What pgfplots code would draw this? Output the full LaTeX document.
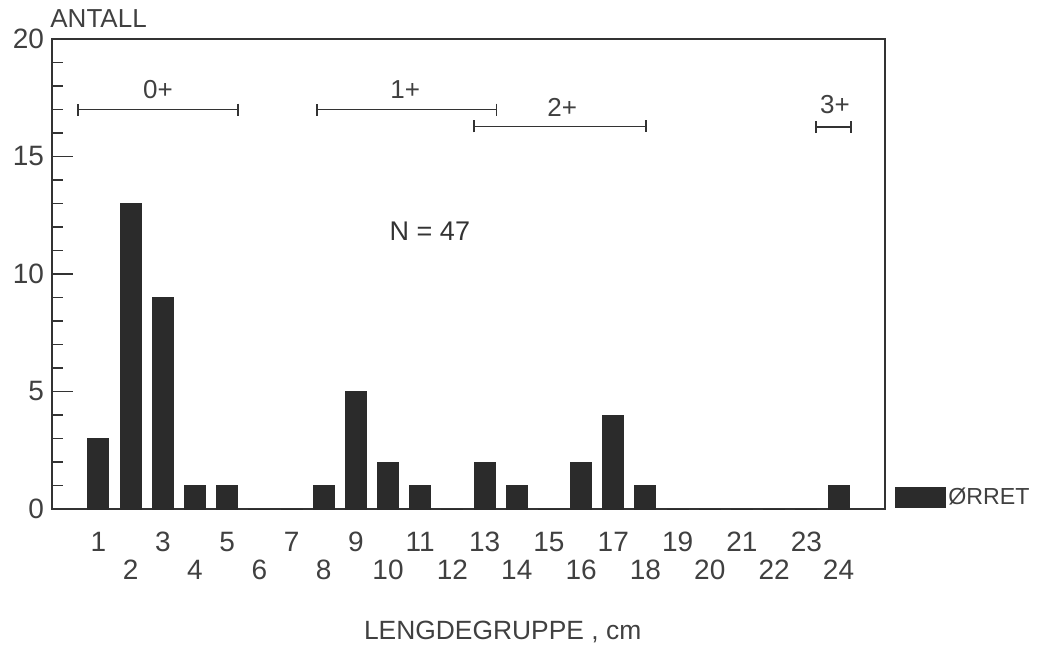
\documentclass[border=0pt]{standalone}
\usepackage{pgfplots}
\pgfplotsset{compat=1.18}
\usepackage{fontspec}
\setmainfont{Liberation Sans}
\usetikzlibrary{arrows.meta}
\definecolor{barcol}{HTML}{2B2B2B}
\definecolor{txtcol}{HTML}{404040}
\definecolor{axcol}{HTML}{333333}
\begin{document}
\begin{tikzpicture}
\begin{axis}[
  scale only axis,
  width=416.5pt, height=235pt,
  xmin=-0.445, xmax=25.445,
  ymin=0, ymax=20,
  axis line style={axcol, line width=0.9pt},
  clip=false,
  xtick={1,3,...,23},
  extra x ticks={2,4,...,24},
  extra x tick style={tick label style={yshift=-14pt}},
  x tick style={draw=none},
  ytick={0,5,10,15,20},
  minor y tick num=4,
  ytick pos=left,
  xtick pos=bottom,
  tick align=inside,
  major tick length=10.5pt,
  minor tick length=5.5pt,
  y tick style={axcol, line width=0.9pt},
  minor y tick style={axcol, line width=0.9pt},
  tick label style={font=\fontsize{14}{14}\selectfont, text=txtcol},
  /pgf/number format/assume math mode=true,
  xticklabel style={yshift=-8pt},
  yticklabel style={xshift=-0.5pt},
  legend style={at={(1,0)}, anchor=south west, draw=none, fill=none,
     xshift=5pt, yshift=-1.5pt, inner sep=0pt,
     nodes={inner xsep=1.5pt},
     font=\fontsize{11.6}{11.6}\selectfont, text=txtcol},
  legend cell align=left,
  legend image code/.code={\fill[barcol] (0pt,-5pt) rectangle (25pt,5pt);},
]
\addplot[ybar, bar width=10.5pt, fill=barcol, draw=barcol, line width=0pt]
 coordinates {(1,3) (2,13) (3,9) (4,1) (5,1) (6,0) (7,0) (8,1) (9,5) (10,2)
 (11,1) (12,0) (13,2) (14,1) (15,0) (16,2) (17,4) (18,1) (19,0) (20,0)
 (21,0) (22,0) (23,0) (24,1)};
\addlegendentry{ØRRET}
\addplot[forget plot, axcol, line width=0.8pt, {Bar[width=6pt]}-{Bar[width=6pt]}] coordinates {(0.33,17) (5.37,17)};
\addplot[forget plot, axcol, line width=0.8pt, {Bar[width=6pt]}-{Bar[width=6pt]}] coordinates {(7.76,17) (13.39,17)};
\addplot[forget plot, axcol, line width=0.8pt, {Bar[width=6pt]}-{Bar[width=6pt]}] coordinates {(12.64,16.28) (18.05,16.28)};
\addplot[forget plot, axcol, line width=0.8pt, {Bar[width=6pt]}-{Bar[width=6pt]}] coordinates {(23.27,16.25) (24.42,16.25)};
\node[text=txtcol, font=\fontsize{13}{13}\selectfont] at (axis cs:2.85,17.87) {0+};
\node[text=txtcol, font=\fontsize{13}{13}\selectfont] at (axis cs:10.53,17.87) {1+};
\node[text=txtcol, font=\fontsize{13}{13}\selectfont] at (axis cs:15.41,17.1) {2+};
\node[text=txtcol, font=\fontsize{13}{13}\selectfont] at (axis cs:23.89,17.19) {3+};
\node[text=axcol, font=\fontsize{13.5}{13.5}\selectfont] at (axis cs:11.30,11.8) {N = 47};
\node[anchor=south west, inner sep=0pt, text=txtcol, font=\fontsize{13}{13}\selectfont, yshift=5.5pt, xshift=-1pt] at (rel axis cs:0,1) {ANTALL};
\node[text=txtcol, font=\fontsize{13.2}{13.2}\selectfont, yshift=-61.5pt] at (rel axis cs:0.541,0) {LENGDEGRUPPE , cm};
\end{axis}
\path (current axis.south west) ++(-26pt,-72pt) rectangle ++(518.5pt,326.5pt);
\end{tikzpicture}
\end{document}
